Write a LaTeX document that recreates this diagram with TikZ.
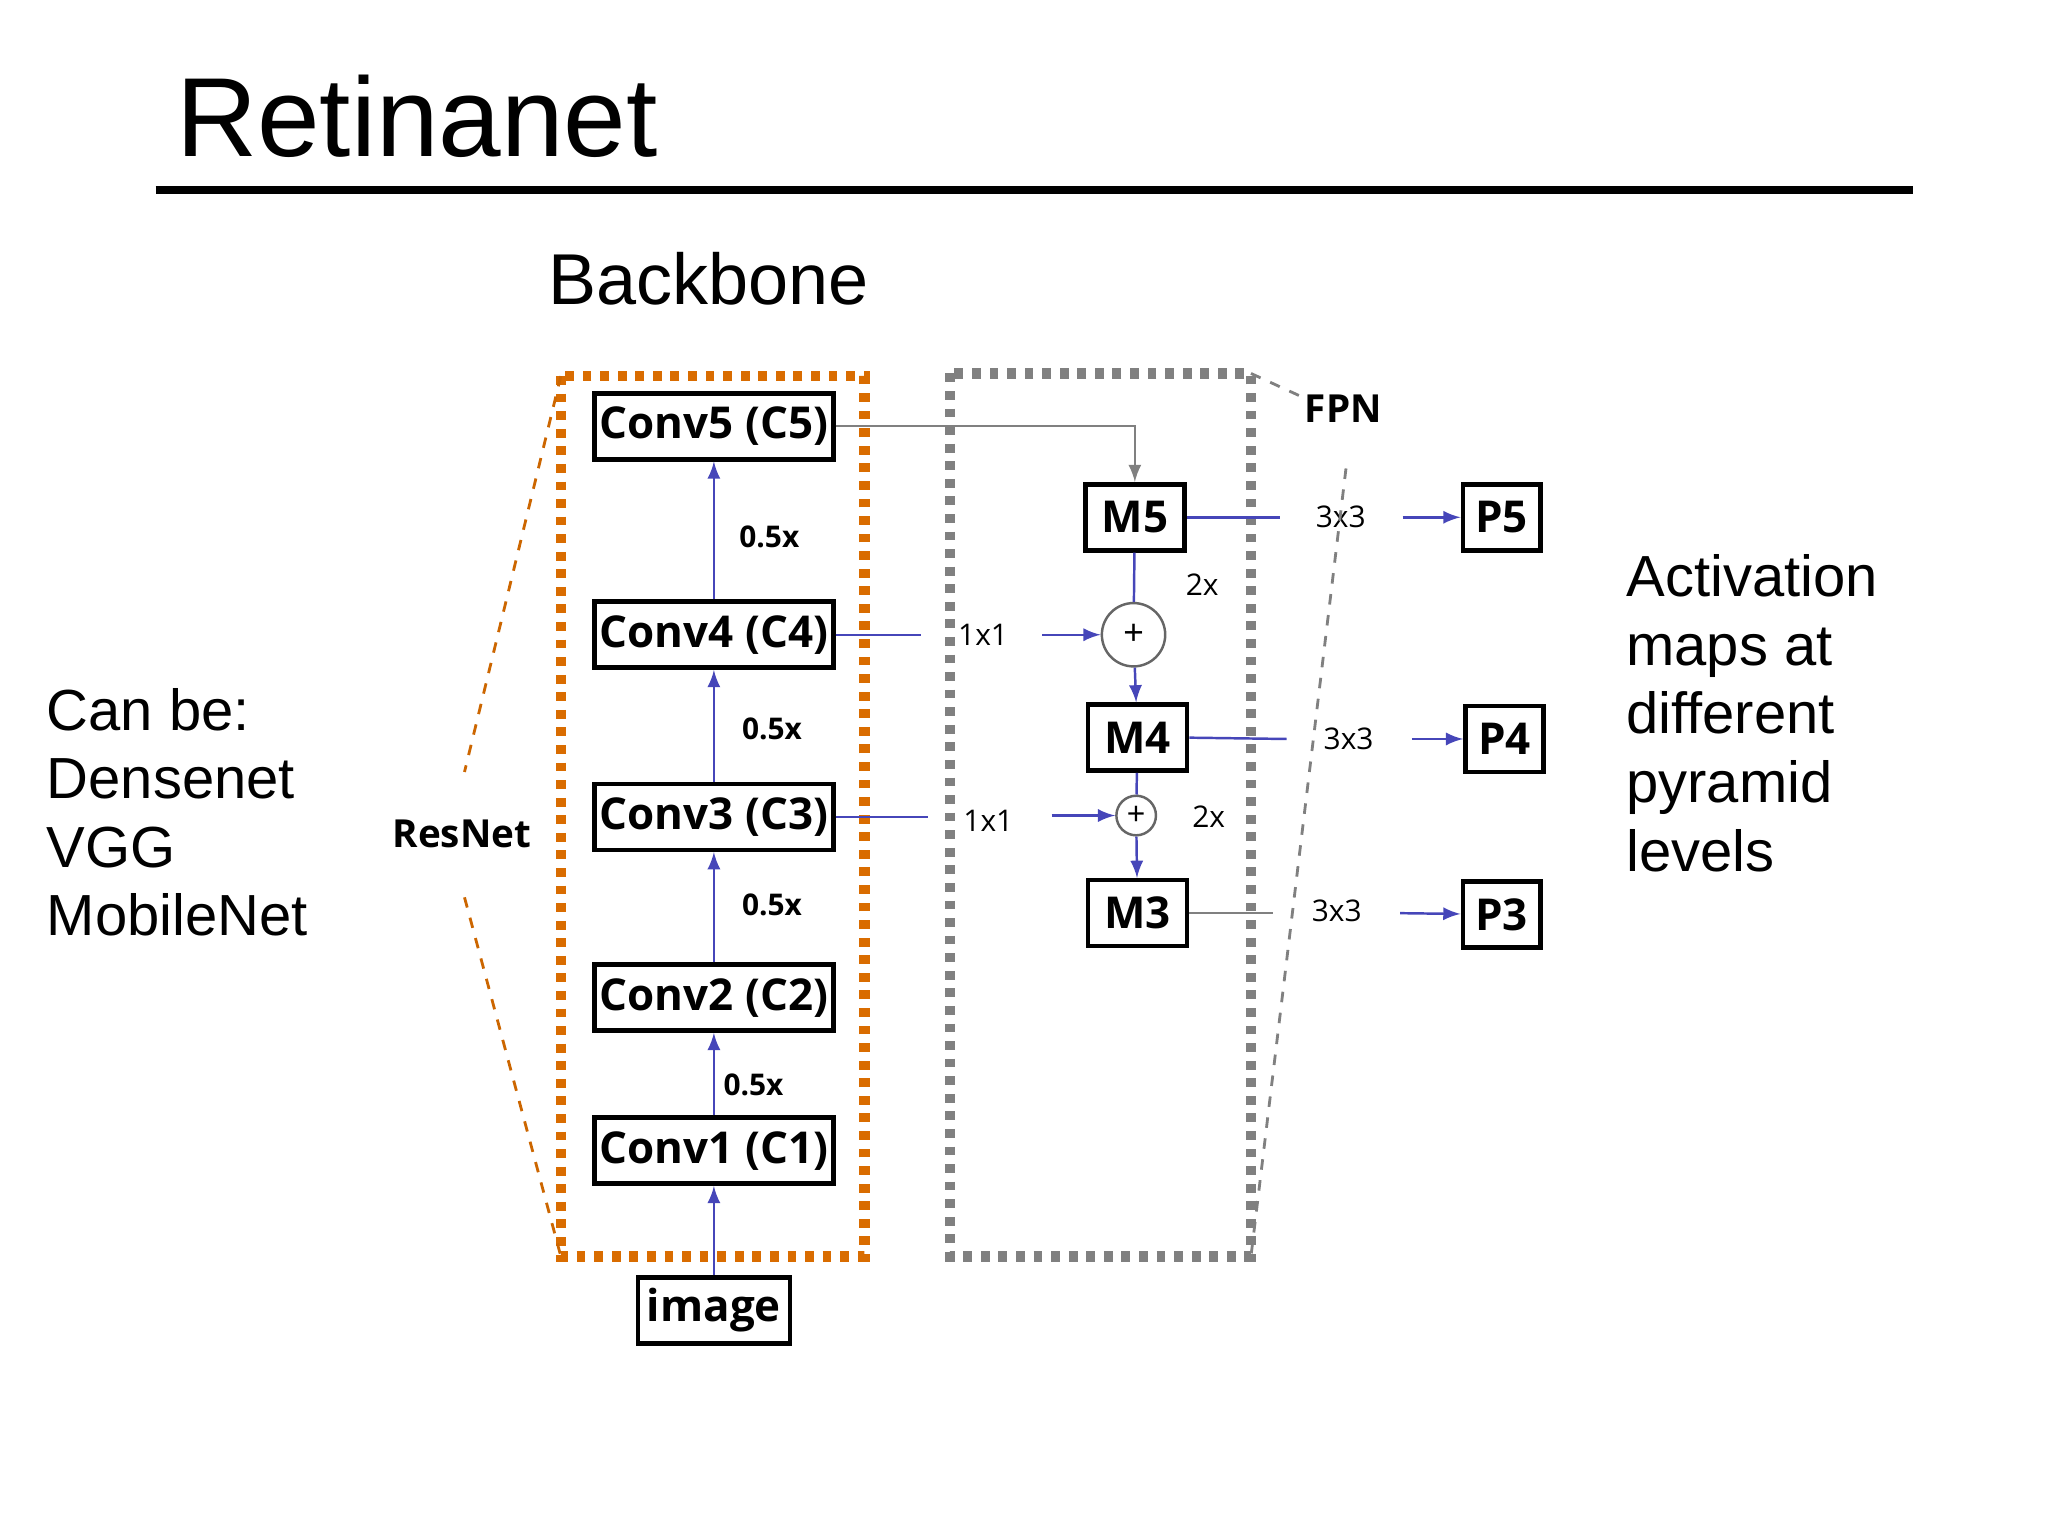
\documentclass[tikz,border=0pt]{standalone}
\usepackage{fontspec}
\setmainfont{Liberation Sans}
\newfontfamily\boxf{Open Sans}
\begin{document}
\begin{tikzpicture}[x=0.0132cm,y=-0.0132cm,
 bx/.style={draw,line width=1.3pt,font=\boxf\bfseries\fontsize{12.5}{14}\selectfont,inner sep=0pt,minimum height=50*0.0132cm},
 lab/.style={font=\boxf\fontsize{8.5}{10}\selectfont,inner sep=1pt},
 blab/.style={font=\boxf\bfseries\fontsize{8.5}{10}\selectfont,inner sep=1pt},
 ln/.style={draw=blue!45!gray,line width=0.7pt},
 ar/.style={ln,-latex},
 big/.style={font=\fontsize{16.5}{19.5}\selectfont,align=left,anchor=north west,inner sep=0pt}]
\useasboundingbox (0,0) rectangle (1552,1164);
\node[anchor=west,inner sep=0pt,font=\fontsize{32}{36}\selectfont] (title) at (133,88) {Retinanet};
\draw[line width=2.3pt] (118,144) coordinate (l1) -- (1450,144) coordinate (l2);
\node[font=\fontsize{20.5}{24}\selectfont] (bb) at (537,211) {Backbone};
\draw[draw=orange!85!black,line width=3pt,dash pattern=on 2.5pt off 2.5pt] (425,285) coordinate (o1) rectangle (655,952) coordinate (o2);
\draw[draw=gray,line width=3pt,dash pattern=on 2.5pt off 2.5pt] (720,283) coordinate (g1) rectangle (948,952) coordinate (g2);
\node[bx,minimum width=181*0.0132cm] (c5) at (541,323) {Conv5 (C5)};
\node[bx,minimum width=181*0.0132cm] (c4) at (541,481) {Conv4 (C4)};
\node[bx,minimum width=181*0.0132cm] (c3) at (541,619) {Conv3 (C3)};
\node[bx,minimum width=181*0.0132cm] (c2) at (541,756) {Conv2 (C2)};
\node[bx,minimum width=181*0.0132cm] (c1) at (541,872) {Conv1 (C1)};
\node[bx,minimum width=115*0.0132cm] (img) at (541,993) {image};
\node[bx,minimum width=75*0.0132cm] (m5) at (860,392) {M5};
\node[bx,minimum width=75*0.0132cm] (m4) at (862,559) {M4};
\node[bx,minimum width=75*0.0132cm] (m3) at (862,692) {M3};
\node[bx,minimum width=59*0.0132cm] (p5) at (1138,392) {P5};
\node[bx,minimum width=59*0.0132cm] (p4) at (1140,560) {P4};
\node[bx,minimum width=59*0.0132cm] (p3) at (1138,693) {P3};
\node[draw,circle,gray!80!black,line width=0.7pt,minimum size=48*0.0132cm,inner sep=0pt,text=black] (s4) at (859,481) {+};
\node[draw,circle,gray!80!black,line width=0.7pt,minimum size=30*0.0132cm,inner sep=0pt,text=black,font=\small] (s3) at (861,618) {+};
\node[blab] (h1) at (583,407) {0.5x};
\node[blab] (h2) at (585,552) {0.5x};
\node[blab] (h3) at (585,686) {0.5x};
\node[blab] (h4) at (571,822) {0.5x};
\node[lab] (k4) at (745,481) {1x1};
\node[lab] (k3) at (749,622) {1x1};
\node[lab] (u5) at (911,443) {2x};
\node[lab] (u4) at (916,619) {2x};
\node[lab] (t5) at (1016,392) {3x3};
\node[lab] (t4) at (1022,560) {3x3};
\node[lab] (t3) at (1013,690) {3x3};
\node[font=\boxf\bfseries\fontsize{11}{13}\selectfont] (fpn) at (1018,310) {FPN};
\node[font=\boxf\bfseries\fontsize{11}{13}\selectfont] (rn) at (350,632) {ResNet};
\node[big] (cb) at (35,521) {Can be:\\Densenet\\VGG\\MobileNet};
\node[big] (act) at (1232,420) {Activation\\maps at\\different\\pyramid\\levels};
% backbone arrows
\draw[ar] (img) -- (c1);
\draw[ar] (c1) -- (c2);
\draw[ar] (c2) -- (c3);
\draw[ar] (c3) -- (c4);
\draw[ar] (c4) -- (c5);
% FPN
\draw[ar,draw=gray] (c5.east) -| (m5.north);
\draw[ln] (c4.east) -- (698,481) coordinate (k4a);
\draw[ar] (790,481) coordinate (k4b) -- (s4);
\draw[ln] (c3.east) -- (703,619) coordinate (k3a);
\draw[ar] (797,618) coordinate (k3b) -- (s3);
\draw[ln] (m5) -- (s4);
\draw[ar] (s4) -- (m4);
\draw[ln] (m4) -- (s3);
\draw[ar] (s3) -- (m3);
\draw[ln] (m5.east) -- (970,392) coordinate (a5);
\draw[ar] (1063,392) coordinate (b5) -- (p5);
\draw[ln] (m4.east) -- (975,560) coordinate (a4);
\draw[ar] (1070,560) coordinate (b4) -- (p4);
\draw[ln,draw=gray] (m3.east) -- (965,692) coordinate (a3);
\draw[ar] (1061,692) coordinate (b3) -- (p3);
% dashed projections
\draw[orange!80!black,dashed,line width=0.8pt] (o1) -- (352,585) coordinate (r1);
\draw[orange!80!black,dashed,line width=0.8pt] (352,680) coordinate (r2) -- (425,952);
\draw[gray,dashed,line width=0.8pt] (g1 -| g2) -- (985,300) coordinate (f1);
\draw[gray,dashed,line width=0.8pt] (1020,355) coordinate (f2) -- (g2);
\end{tikzpicture}
\end{document}
